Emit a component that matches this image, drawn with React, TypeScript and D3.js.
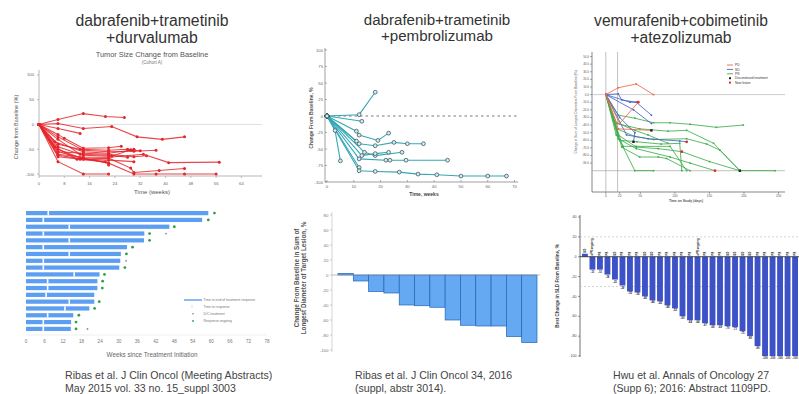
import React from "react";
import * as d3 from "d3";

type Pt = [number, number];

const FONT = "'Liberation Sans', Arial, Helvetica, sans-serif";
const AXIS = "#9a9a9a";

// ---- dabrafenib+trametinib+durvalumab (weeks, % change) ----
const durvaXTicks = [0, 8, 16, 24, 32, 40, 48, 56, 64];
const durvaYTicks = [100, 50, 0, -50, -100];
const durvaSeries: Pt[][] = [
  [[0, 0], [6, 10], [14, 22], [21, 16], [27, 14]],
  [[0, 0], [6, 2], [14, -8], [23, -4], [31, -25], [39, -30], [46, -25]],
  [[0, 0], [6, -8], [13, -18]],
  [[0, 0], [6, -20], [8, -28], [14, -48], [22, -47], [26, -44]],
  [[0, 0], [6, -25], [14, -52], [22, -55], [30, -54], [37, -52]],
  [[0, 0], [5, -35], [14, -55], [22, -58], [29, -52], [32, -53]],
  [[0, 0], [6, -45], [14, -62], [23, -64], [29, -51], [30, -50]],
  [[0, 0], [6, -55], [14, -58], [22, -60], [30, -65], [34, -63]],
  [[0, 0], [6, -60], [14, -66], [22, -66], [33, -60], [41, -77], [57, -76]],
  [[0, 0], [6, -65], [13, -70], [22, -72], [30, -75]],
  [[0, 0], [6, -75], [14, -100], [22, -100]],
  [[0, 0], [6, -50], [13, -67], [22, -78], [22, -82]],
  [[0, 0], [6, -62], [14, -70], [22, -68], [29, -88], [30, -97], [38, -93], [46, -89]],
  [[0, 0], [6, -55], [14, -68], [22, -78], [30, -100], [37, -100], [46, -100], [56, -100]],
  [[0, 0], [6, -40], [13, -50], [22, -52], [28, -50], [30, -51]],
  [[0, 0], [6, -30], [13, -60], [22, -62], [28, -66]],
  [[0, 0], [5, -45], [12, -70], [21, -75]],
];

// ---- dabrafenib+trametinib+pembrolizumab (weeks, % change) ----
const pembroXTicks = [0, 10, 20, 30, 40, 50, 60, 70];
const pembroYTicks = [100, 75, 50, 25, 0, -25, -50, -75, -100];
const pembroSeries: Pt[][] = [
  [[0, 0], [12, 2], [18, 36]],
  [[0, 0], [13, -8]],
  [[0, 0], [3, -22], [5, -68]],
  [[0, 0], [11, -23], [12, -29], [19, -37], [23, -26]],
  [[0, 0], [12, -42], [18, -45], [25, -40], [30, -42], [36, -42]],
  [[0, 0], [11, -38]],
  [[0, 0], [14, -55], [18, -60], [28, -55]],
  [[0, 0], [13, -60], [18, -57], [23, -55]],
  [[0, 0], [12, -65], [22, -67], [23.5, -67], [29.5, -67], [45, -67]],
  [[0, 0], [12, -78]],
  [[0, 0], [12, -83], [18, -84], [27, -85], [34, -88], [41, -89], [50, -91], [60, -91], [67, -91]],
];

// ---- vemurafenib+cobimetinib+atezolizumab (days, % change) ----
const atezoXTicks = [0, 20, 50, 100, 150, 200, 250];
const atezoYTicks = [50, 40, 30, 20, 10, 0, -10, -20, -30, -40, -50, -60, -70, -80, -90];
const atezoPD: Pt[][] = [
  [[0, 0], [18, 9], [44, 14], [69, 0]],
  [[0, 0], [20, -38], [47, -10]],
  [[0, 0], [18, -45], [66, -47]],
];
const atezoSD: Pt[][] = [
  [[0, 0], [18, 1], [23, -7], [44, -10], [66, -27]],
  [[0, 0], [35, -10], [47, -10]],
  [[0, 0], [40, -20], [66, -38]],
  [[0, 0], [20, -30], [42, -50], [40, -62]],
  [[0, 0], [30, -53], [61, -58], [107, -61], [117, -62]],
];
const atezoPR: Pt[][] = [
  [[0, 0], [18, -27], [42, -31], [69, -37], [93, -37], [122, -39], [160, -43], [199, -40]],
  [[0, 0], [16, -38], [49, -45], [90, -48], [117, -47], [156, -64], [194, -100]],
  [[0, 0], [16, -45], [42, -55], [69, -59], [117, -58], [146, -65], [165, -73], [194, -100]],
  [[0, 0], [18, -53], [44, -69], [76, -71], [110, -75], [150, -88], [194, -100], [245, -100]],
  [[0, 0], [25, -69], [42, -100], [69, -100]],
  [[0, 0], [15, -53], [25, -68], [44, -68], [93, -68], [117, -100]],
  [[0, 0], [18, -58], [44, -71], [93, -82], [122, -90], [158, -100]],
  [[0, 0], [23, -69], [49, -82], [76, -82], [88, -84], [122, -100]],
  [[0, 0], [13, -36], [42, -47], [61, -53], [90, -64]],
  [[0, 0], [20, -60], [45, -62], [80, -65], [107, -64], [110, -100]],
];
const atezoDiscontinued: Pt[] = [[40, -62], [66, -47], [194, -100]];
const atezoNewLesion: Pt[] = [[47, -10], [117, -62], [158, -100], [110, -75]];
const atezoLegend = ["PD", "SD", "PR", "Discontinued treatment", "New lesion"];

// ---- swimmer plot (weeks) ----
const swimTicks = [0, 6, 12, 18, 24, 30, 36, 42, 48, 54, 60, 66, 72, 78];
const swimEnd = [59, 57, 46.4, 38.3, 38.2, 32.7, 30.7, 30.5, 30.2, 23.8, 23.1, 23.1, 22.1, 22.1, 20.5, 15.3, 14.6, 14.5];
const swimResponse = [7.2, 5.6, 14, 5.6, 14, 5.6, 14, 5.6, 5.6, 15.6, 7, 7, 6.5, 14, 12.6, 7, 5.6, 5.6];
const swimOngoing = [61, 59, 48, 40, 40, 34.5, 32.5, null, 32, 25.4, 24.8, 24.7, null, 23.7, 22.2, 17.1, 16.2, 16.2];
const swimStopped = [null, null, null, 45.3, null, null, null, 32.4, null, null, null, null, null, null, null, null, null, 19.9];
const swimLegend = ["Time to end of treatment response", "Time to response", "D/C treatment", "Response ongoing"];

// ---- Ribas 2016 waterfall (%) ----
const ribasValues = [2, -8, -22, -24, -40, -41, -43, -60, -67, -68, -68, -82, -90];
const ribasTicks = [80, 60, 40, 20, 0, -20, -40, -60, -80, -100];

// ---- Hwu 2016 waterfall (%) ----
const hwuValues = [3, -13, -13, -18, -23, -29, -35, -36, -40, -44, -45, -49, -52, -60, -64, -64, -67, -69, -69, -70, -71, -75, -80, -90, -100, -100, -100, -100, -100];
const hwuTags = ["SD", "uPR ongoing", "PR", "PR", "SD", "PR", "PR", "PR", "SD", "SD", "PR", "PR", "PR", "PR", "PR", "uPR ongoing", "PR", "PR", "PR", "SD", "SD", "SD", "SD", "PR", "PR", "PR", "PR", "PR", "PR"];
const hwuTicks = [40, 20, 0, -20, -40, -60, -80, -100];

function Title({ x, lines, y, size }: { x: number; lines: string[]; y: number[]; size: number }) {
  return (
    <g fontFamily={FONT} fontSize={size} fill="#333" textAnchor="middle">
      {lines.map((t, i) => (
        <text key={i} x={x} y={y[i]}>{t}</text>
      ))}
    </g>
  );
}

function Durva() {
  const x = d3.scaleLinear().domain([0, 70.5]).range([39, 262]);
  const y = d3.scaleLinear().domain([-104, 110]).range([176, 70]);
  const line = d3.line<Pt>().x(d => x(d[0])).y(d => y(d[1]));
  return (
    <g fontFamily={FONT}>
      <Title x={152} lines={["dabrafenib+trametinib", "+durvalumab"]} y={[26, 43]} size={15.8} />
      <text x={152} y={57} fontSize={7.4} fill="#555" textAnchor="middle">Tumor Size Change from Baseline</text>
      <text x={152} y={64} fontSize={4.5} fill="#777" textAnchor="middle">(Cohort A)</text>
      <line x1={39} x2={39} y1={70} y2={176} stroke={AXIS} strokeWidth={0.7} />
      <line x1={39} x2={262} y1={176} y2={176} stroke={AXIS} strokeWidth={0.7} />
      <line x1={39} x2={262} y1={y(0)} y2={y(0)} stroke="#ccc" strokeWidth={0.6} />
      {durvaYTicks.map(t => (
        <g key={t}>
          <line x1={37} x2={39} y1={y(t)} y2={y(t)} stroke={AXIS} strokeWidth={0.6} />
          <text x={34} y={y(t) + 1.5} fontSize={4.2} fill="#666" textAnchor="end">{t}</text>
        </g>
      ))}
      {durvaXTicks.map(t => (
        <g key={t}>
          <line x1={x(t)} x2={x(t)} y1={176} y2={178} stroke={AXIS} strokeWidth={0.6} />
          <text x={x(t)} y={184.5} fontSize={4.2} fill="#666" textAnchor="middle">{t}</text>
        </g>
      ))}
      <text x={152} y={194} fontSize={6} fill="#555" textAnchor="middle">Time (weeks)</text>
      <text transform="translate(18,127) rotate(-90)" fontSize={5.5} fill="#555" textAnchor="middle">Change from Baseline (%)</text>
      {durvaSeries.map((s, i) => (
        <g key={i}>
          <path d={line(s) ?? ""} fill="none" stroke="#e4262c" strokeWidth={1.1} strokeOpacity={0.85} />
          {s.map((p, j) => (
            <circle key={j} cx={x(p[0])} cy={y(p[1])} r={1.5} fill="#e4262c" />
          ))}
        </g>
      ))}
    </g>
  );
}

function Pembro() {
  const x = d3.scaleLinear().domain([0, 70]).range([327, 514.5]);
  const y = d3.scaleLinear().domain([-100, 100]).range([182, 50]);
  const line = d3.line<Pt>().x(d => x(d[0])).y(d => y(d[1]));
  return (
    <g fontFamily={FONT}>
      <Title x={437} lines={["dabrafenib+trametinib", "+pembrolizumab"]} y={[25, 41]} size={15.1} />
      <line x1={325} x2={325} y1={48} y2={182} stroke="#777" strokeWidth={0.7} />
      <line x1={325} x2={518} y1={182} y2={182} stroke="#777" strokeWidth={0.7} />
      <line x1={327} x2={518} y1={y(0)} y2={y(0)} stroke="#555" strokeWidth={0.8} strokeDasharray="2.5,3" />
      {pembroYTicks.map(t => (
        <g key={t}>
          <line x1={325} x2={327} y1={y(t)} y2={y(t)} stroke="#777" strokeWidth={0.6} />
          <text x={323} y={y(t) + 1.5} fontSize={4.2} fill="#666" textAnchor="end">{t}</text>
        </g>
      ))}
      {pembroXTicks.map(t => (
        <g key={t}>
          <line x1={x(t)} x2={x(t)} y1={182} y2={180} stroke="#777" strokeWidth={0.6} />
          <text x={x(t)} y={188} fontSize={4.2} fill="#666" textAnchor="middle">{t}</text>
        </g>
      ))}
      <text x={424} y={196} fontSize={5} fontWeight="bold" fill="#444" textAnchor="middle">Time, weeks</text>
      <text transform="translate(313,118) rotate(-90)" fontSize={5} fontWeight="bold" fill="#555" textAnchor="middle">Change From Baseline, %</text>
      {pembroSeries.map((s, i) => (
        <path key={i} d={line(s) ?? ""} fill="none" stroke="#35a7b5" strokeWidth={1.1} />
      ))}
      {pembroSeries.map((s, i) => (
        <g key={"m" + i}>
          {s.map((p, j) => (
            <circle key={j} cx={x(p[0])} cy={y(p[1])} r={1.9} fill="#d6ecee" stroke="#2a4650" strokeWidth={0.7} />
          ))}
        </g>
      ))}
    </g>
  );
}

function Atezo() {
  const x = d3.scaleLinear().domain([-20, 255]).range([592, 782]);
  const y = d3.scaleLinear().domain([-128, 56]).range([192, 52]);
  const line = d3.line<Pt>().x(d => x(d[0])).y(d => y(d[1]));
  const groups: [Pt[][], string][] = [
    [atezoPR, "#3fae4c"],
    [atezoSD, "#4a62cc"],
    [atezoPD, "#ec6a45"],
  ];
  const legendColors = ["#ec6a45", "#4a62cc", "#3fae4c", "#222", "#e03030"];
  return (
    <g fontFamily={FONT}>
      <Title x={681} lines={["vemurafenib+cobimetinib", "+atezolizumab"]} y={[25.5, 42.5]} size={15.6} />
      <line x1={592} x2={592} y1={52} y2={192} stroke="#555" strokeWidth={0.7} />
      <line x1={592} x2={785} y1={192} y2={192} stroke="#555" strokeWidth={0.7} />
      <line x1={x(0)} x2={x(0)} y1={52} y2={192} stroke="#999" strokeWidth={0.6} />
      <line x1={x(17)} x2={x(17)} y1={52} y2={192} stroke="#999" strokeWidth={0.6} />
      <line x1={592} x2={785} y1={y(0)} y2={y(0)} stroke="#aaa" strokeWidth={0.6} />
      <line x1={592} x2={785} y1={y(-100)} y2={y(-100)} stroke="#999" strokeWidth={0.6} />
      {atezoYTicks.map(t => (
        <g key={t}>
          <line x1={590} x2={592} y1={y(t)} y2={y(t)} stroke="#555" strokeWidth={0.5} />
          <text x={589} y={y(t) + 1} fontSize={3} fill="#555" textAnchor="end">{t.toFixed(1)}</text>
        </g>
      ))}
      {atezoXTicks.map(t => (
        <g key={t}>
          <line x1={x(t)} x2={x(t)} y1={192} y2={194} stroke="#555" strokeWidth={0.5} />
          <text x={x(t)} y={197} fontSize={3.2} fill="#555" textAnchor="middle">{t}</text>
        </g>
      ))}
      <text x={686} y={201.5} fontSize={3.4} fontWeight="bold" fill="#555" textAnchor="middle">Time on Study (days)</text>
      <text transform="translate(577,112) rotate(-90)" fontSize={3.3} fill="#555" textAnchor="middle">Change in Sum of Longest Diameters From Baseline (%)</text>
      {groups.map(([series, c], gi) => (
        <g key={gi}>
          {series.map((s, i) => (
            <g key={i}>
              <path d={line(s) ?? ""} fill="none" stroke={c} strokeWidth={1} strokeOpacity={0.85} />
              {s.map((p, j) => (
                <rect key={j} x={x(p[0]) - 0.8} y={y(p[1]) - 0.8} width={1.6} height={1.6} fill={c} />
              ))}
            </g>
          ))}
        </g>
      ))}
      {atezoDiscontinued.map((p, i) => (
        <rect key={i} x={x(p[0]) - 1.2} y={y(p[1]) - 1.2} width={2.4} height={2.4} fill="#222" />
      ))}
      {atezoNewLesion.map((p, i) => (
        <circle key={i} cx={x(p[0])} cy={y(p[1])} r={1.4} fill="#e03030" />
      ))}
      {atezoLegend.map((t, i) => (
        <g key={t}>
          {i < 3 ? (
            <line x1={727} x2={733} y1={65 + i * 4.4} y2={65 + i * 4.4} stroke={legendColors[i]} strokeWidth={0.9} />
          ) : (
            <rect x={729} y={64 + i * 4.4} width={2} height={2} fill={legendColors[i]} />
          )}
          <text x={735} y={66.2 + i * 4.4} fontSize={3.2} fill="#333">{t}</text>
        </g>
      ))}
    </g>
  );
}

function Swimmer() {
  const x = d3.scaleLinear().domain([0, 78]).range([26, 267]);
  const y = d3.scaleBand<number>().domain(d3.range(swimEnd.length)).range([211, 331]).paddingInner(0.38);
  const bh = y.bandwidth();
  return (
    <g fontFamily={FONT}>
      <clipPath id="swimclip"><rect x={0} y={195} width={270} height={170} /></clipPath>
      {swimEnd.map((e, i) => (
        <g key={i}>
          <rect x={x(0)} y={y(i)!} width={x(e) - x(0)} height={bh} fill="#5c9ef2" />
          <rect x={x(swimResponse[i]) - 0.8} y={y(i)!} width={1.6} height={bh} fill="#fff" />
          {swimOngoing[i] != null && (
            <circle cx={x(swimOngoing[i] as number)} cy={y(i)! + bh / 2} r={1.4} fill="#2fa043" />
          )}
          {swimStopped[i] != null && (
            <circle cx={x(swimStopped[i] as number)} cy={y(i)! + bh / 2} r={0.9} fill="#888" />
          )}
        </g>
      ))}
      <line x1={x(0)} x2={x(78)} y1={335} y2={335} stroke="#ddd" strokeWidth={0.5} />
      {swimTicks.map(t => (
        <text key={t} x={x(t)} y={342.5} fontSize={4.6} fill="#777" textAnchor="middle">{t}</text>
      ))}
      <text x={152} y={357} fontSize={6.3} fill="#666" textAnchor="middle">Weeks since Treatment Initiation</text>
      <g clipPath="url(#swimclip)">
        <line x1={184} x2={202} y1={300} y2={300} stroke="#5c9ef2" strokeWidth={1.4} />
        <line x1={192} x2={192} y1={305} y2={308} stroke="#ccc" strokeWidth={0.6} />
        <circle cx={193} cy={313.8} r={0.7} fill="#666" />
        <circle cx={193} cy={321} r={0.9} fill="#2fa043" />
        {swimLegend.map((t, i) => (
          <text key={t} x={203.5} y={[301.2, 307.5, 315, 322.3][i]} fontSize={3.4} fill="#777">{t}</text>
        ))}
      </g>
      <g fontSize={10.6} fill="#444">
        <text x={65} y={379}>Ribas et al. J Clin Oncol (Meeting Abstracts)</text>
        <text x={65} y={391.5}>May 2015 vol. 33 no. 15_suppl 3003</text>
      </g>
    </g>
  );
}

function Ribas() {
  const x = d3.scaleBand<number>().domain(d3.range(ribasValues.length)).range([338, 537]).paddingInner(0);
  const y = d3.scaleLinear().domain([-100, 80]).range([350, 215]);
  return (
    <g fontFamily={FONT}>
      <line x1={332} x2={332} y1={212} y2={352} stroke="#bbb" strokeWidth={0.6} />
      {ribasTicks.map(t => (
        <g key={t}>
          <line x1={330} x2={332} y1={y(t)} y2={y(t)} stroke="#999" strokeWidth={0.5} />
          <text x={328.5} y={y(t) + 1.5} fontSize={4.4} fill="#777" textAnchor="end">{t}</text>
        </g>
      ))}
      {ribasValues.map((v, i) => (
        <rect key={i} x={x(i)!} y={y(Math.max(0, v))} width={x.bandwidth()} height={Math.abs(y(v) - y(0))}
          fill="#64a9f2" stroke="#2163b9" strokeWidth={0.7} />
      ))}
      <line x1={332} x2={540} y1={y(0)} y2={y(0)} stroke="#999" strokeWidth={0.6} />
      <g fontSize={6.3} fontWeight="bold" fill="#555" textAnchor="middle">
        <text transform="translate(299,278) rotate(-90)">Change From Baseline in Sum of</text>
        <text transform="translate(306,278) rotate(-90)">Longest Diameter of Target Lesion, %</text>
      </g>
      <g fontSize={10.6} fill="#444">
        <text x={355} y={379}>Ribas et al. J Clin Oncol 34, 2016</text>
        <text x={355} y={391.5}>(suppl, abstr 3014).</text>
      </g>
    </g>
  );
}

function Hwu() {
  const x = d3.scaleBand<number>().domain(d3.range(hwuValues.length)).range([582, 798]).paddingInner(0.22);
  const y = d3.scaleLinear().domain([-100, 40]).range([356, 217]);
  return (
    <g fontFamily={FONT}>
      <line x1={580} x2={580} y1={215} y2={357} stroke="#333" strokeWidth={0.7} />
      {hwuTicks.map(t => (
        <g key={t}>
          <line x1={578} x2={580} y1={y(t)} y2={y(t)} stroke="#333" strokeWidth={0.5} />
          <text x={576.5} y={y(t) + 1.2} fontSize={3.6} fill="#444" textAnchor="end">{t}</text>
        </g>
      ))}
      <line x1={580} x2={799} y1={y(20)} y2={y(20)} stroke="#bbb" strokeWidth={0.6} strokeDasharray="2,2" />
      <line x1={580} x2={799} y1={y(-30)} y2={y(-30)} stroke="#bbb" strokeWidth={0.6} strokeDasharray="2,2" />
      {hwuValues.map((v, i) => (
        <rect key={i} x={x(i)!} y={y(Math.max(0, v))} width={x.bandwidth()} height={Math.abs(y(v) - y(0))} fill="#3c52c6" />
      ))}
      <line x1={580} x2={799} y1={y(0)} y2={y(0)} stroke="#222" strokeWidth={0.8} />
      {hwuTags.map((t, i) => (
        <text key={i} transform={`translate(${x(i)! + x.bandwidth() / 2 + 1},${y(Math.max(0, hwuValues[i])) - 1}) rotate(-90)`}
          fontSize={2.8} fontWeight="bold" fill="#111">{t}</text>
      ))}
      {hwuValues.map((v, i) => (
        v < 0 ? <text key={i} x={x(i)! + x.bandwidth() / 2} y={y(v) + 3} fontSize={2.6} fontWeight="bold" fill="#111" textAnchor="middle">{v}</text> : null
      ))}
      <text transform="translate(559,286) rotate(-90)" fontSize={4.6} fontWeight="bold" fill="#444" textAnchor="middle">Best Change in SLD From Baseline, %</text>
      <g fontSize={10.6} fill="#444">
        <text x={613} y={379}>Hwu et al. Annals of Oncology 27</text>
        <text x={613} y={391.5}>(Supp 6); 2016: Abstract 1109PD.</text>
      </g>
    </g>
  );
}

export default function App() {
  return (
    <div style={{ position: "absolute", left: 0, top: 0 }}>
      <svg width={799} height={394} style={{ display: "block", background: "#fff" }}>
        <Durva />
        <Pembro />
        <Atezo />
        <Swimmer />
        <Ribas />
        <Hwu />
      </svg>
    </div>
  );
}
